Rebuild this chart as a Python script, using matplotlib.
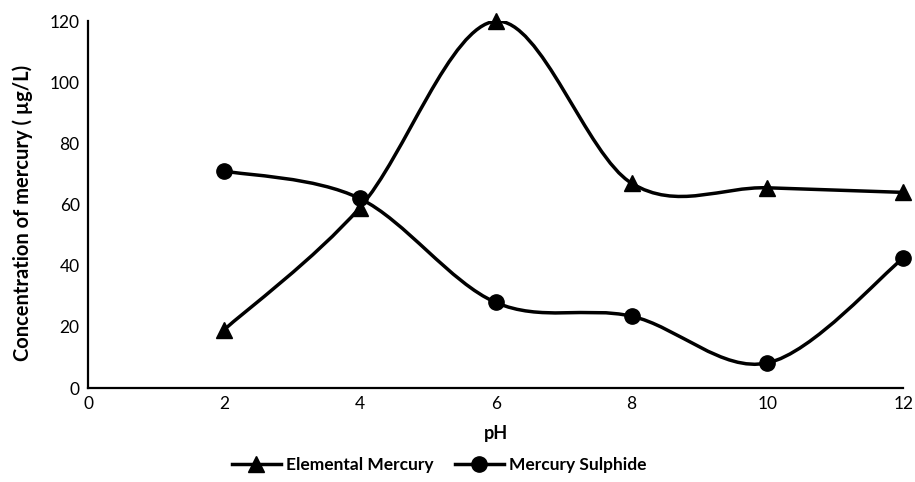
import numpy as np
import matplotlib
matplotlib.use("Agg")
import matplotlib.pyplot as plt
from matplotlib.path import Path
from matplotlib.patches import PathPatch
from matplotlib.lines import Line2D

ph = [2, 4, 6, 8, 10, 12]
elemental = [19, 59, 120, 67, 65.5, 64]
sulphide = [71, 62, 28, 23.5, 8.2, 42.5]
x_ticks = [0, 2, 4, 6, 8, 10, 12]
y_ticks = [0, 20, 40, 60, 80, 100, 120]

plt.rcParams['font.family'] = ['Lato', 'DejaVu Sans']

fig = plt.figure(figsize=(9.15, 4.82), dpi=100)
ax = fig.add_axes([0.0962, 0.195, 0.891, 0.761])


def smooth_path(xs, ys, t=1/6):
    pts = np.column_stack([xs, ys]).astype(float)
    n = len(pts)
    verts = [pts[0]]
    codes = [Path.MOVETO]
    for i in range(n - 1):
        p0 = pts[i - 1] if i > 0 else pts[i]
        p1 = pts[i]
        p2 = pts[i + 1]
        p3 = pts[i + 2] if i + 2 < n else pts[i + 1]
        c1 = p1 + (p2 - p0) * t
        c2 = p2 - (p3 - p1) * t
        verts += [c1, c2, p2]
        codes += [Path.CURVE4] * 3
    return Path(verts, codes)


lw = 2.5
for ys, mk in [(elemental, '^'), (sulphide, 'o')]:
    ax.add_patch(PathPatch(smooth_path(ph, ys), facecolor='none',
                           edgecolor='black', lw=lw, capstyle='round', zorder=2))
    ax.plot(ph, ys, linestyle='none', marker=mk, color='black',
            markersize=11, zorder=3, clip_on=False)

ax.set_xlim(0, 12)
ax.set_ylim(0, 120)
ax.set_xticks(x_ticks)
ax.set_yticks(y_ticks)
ax.tick_params(length=0, labelsize=12.5, pad=6)
for s in ['top', 'right']:
    ax.spines[s].set_visible(False)
for s in ['left', 'bottom']:
    ax.spines[s].set_linewidth(1.6)

ax.set_xlabel('pH', fontsize=13, fontweight='bold', labelpad=9)
ax.set_ylabel('Concentration of mercury ( µg/L)', fontsize=14.5,
              fontweight='bold')
ax.yaxis.set_label_coords(-0.068, 0.477)

handles = [
    Line2D([], [], color='black', lw=lw, marker='^', markersize=11),
    Line2D([], [], color='black', lw=lw, marker='o', markersize=11),
]
fig.legend(handles, ['Elemental Mercury', 'Mercury Sulphide'],
           loc='center', bbox_to_anchor=(0.48, 0.035), ncol=2, frameon=False,
           prop={'weight': 'bold', 'size': 12.5}, handlelength=2.8,
           columnspacing=1.25, handletextpad=0.3)

fig.savefig('out.png', dpi=100)
